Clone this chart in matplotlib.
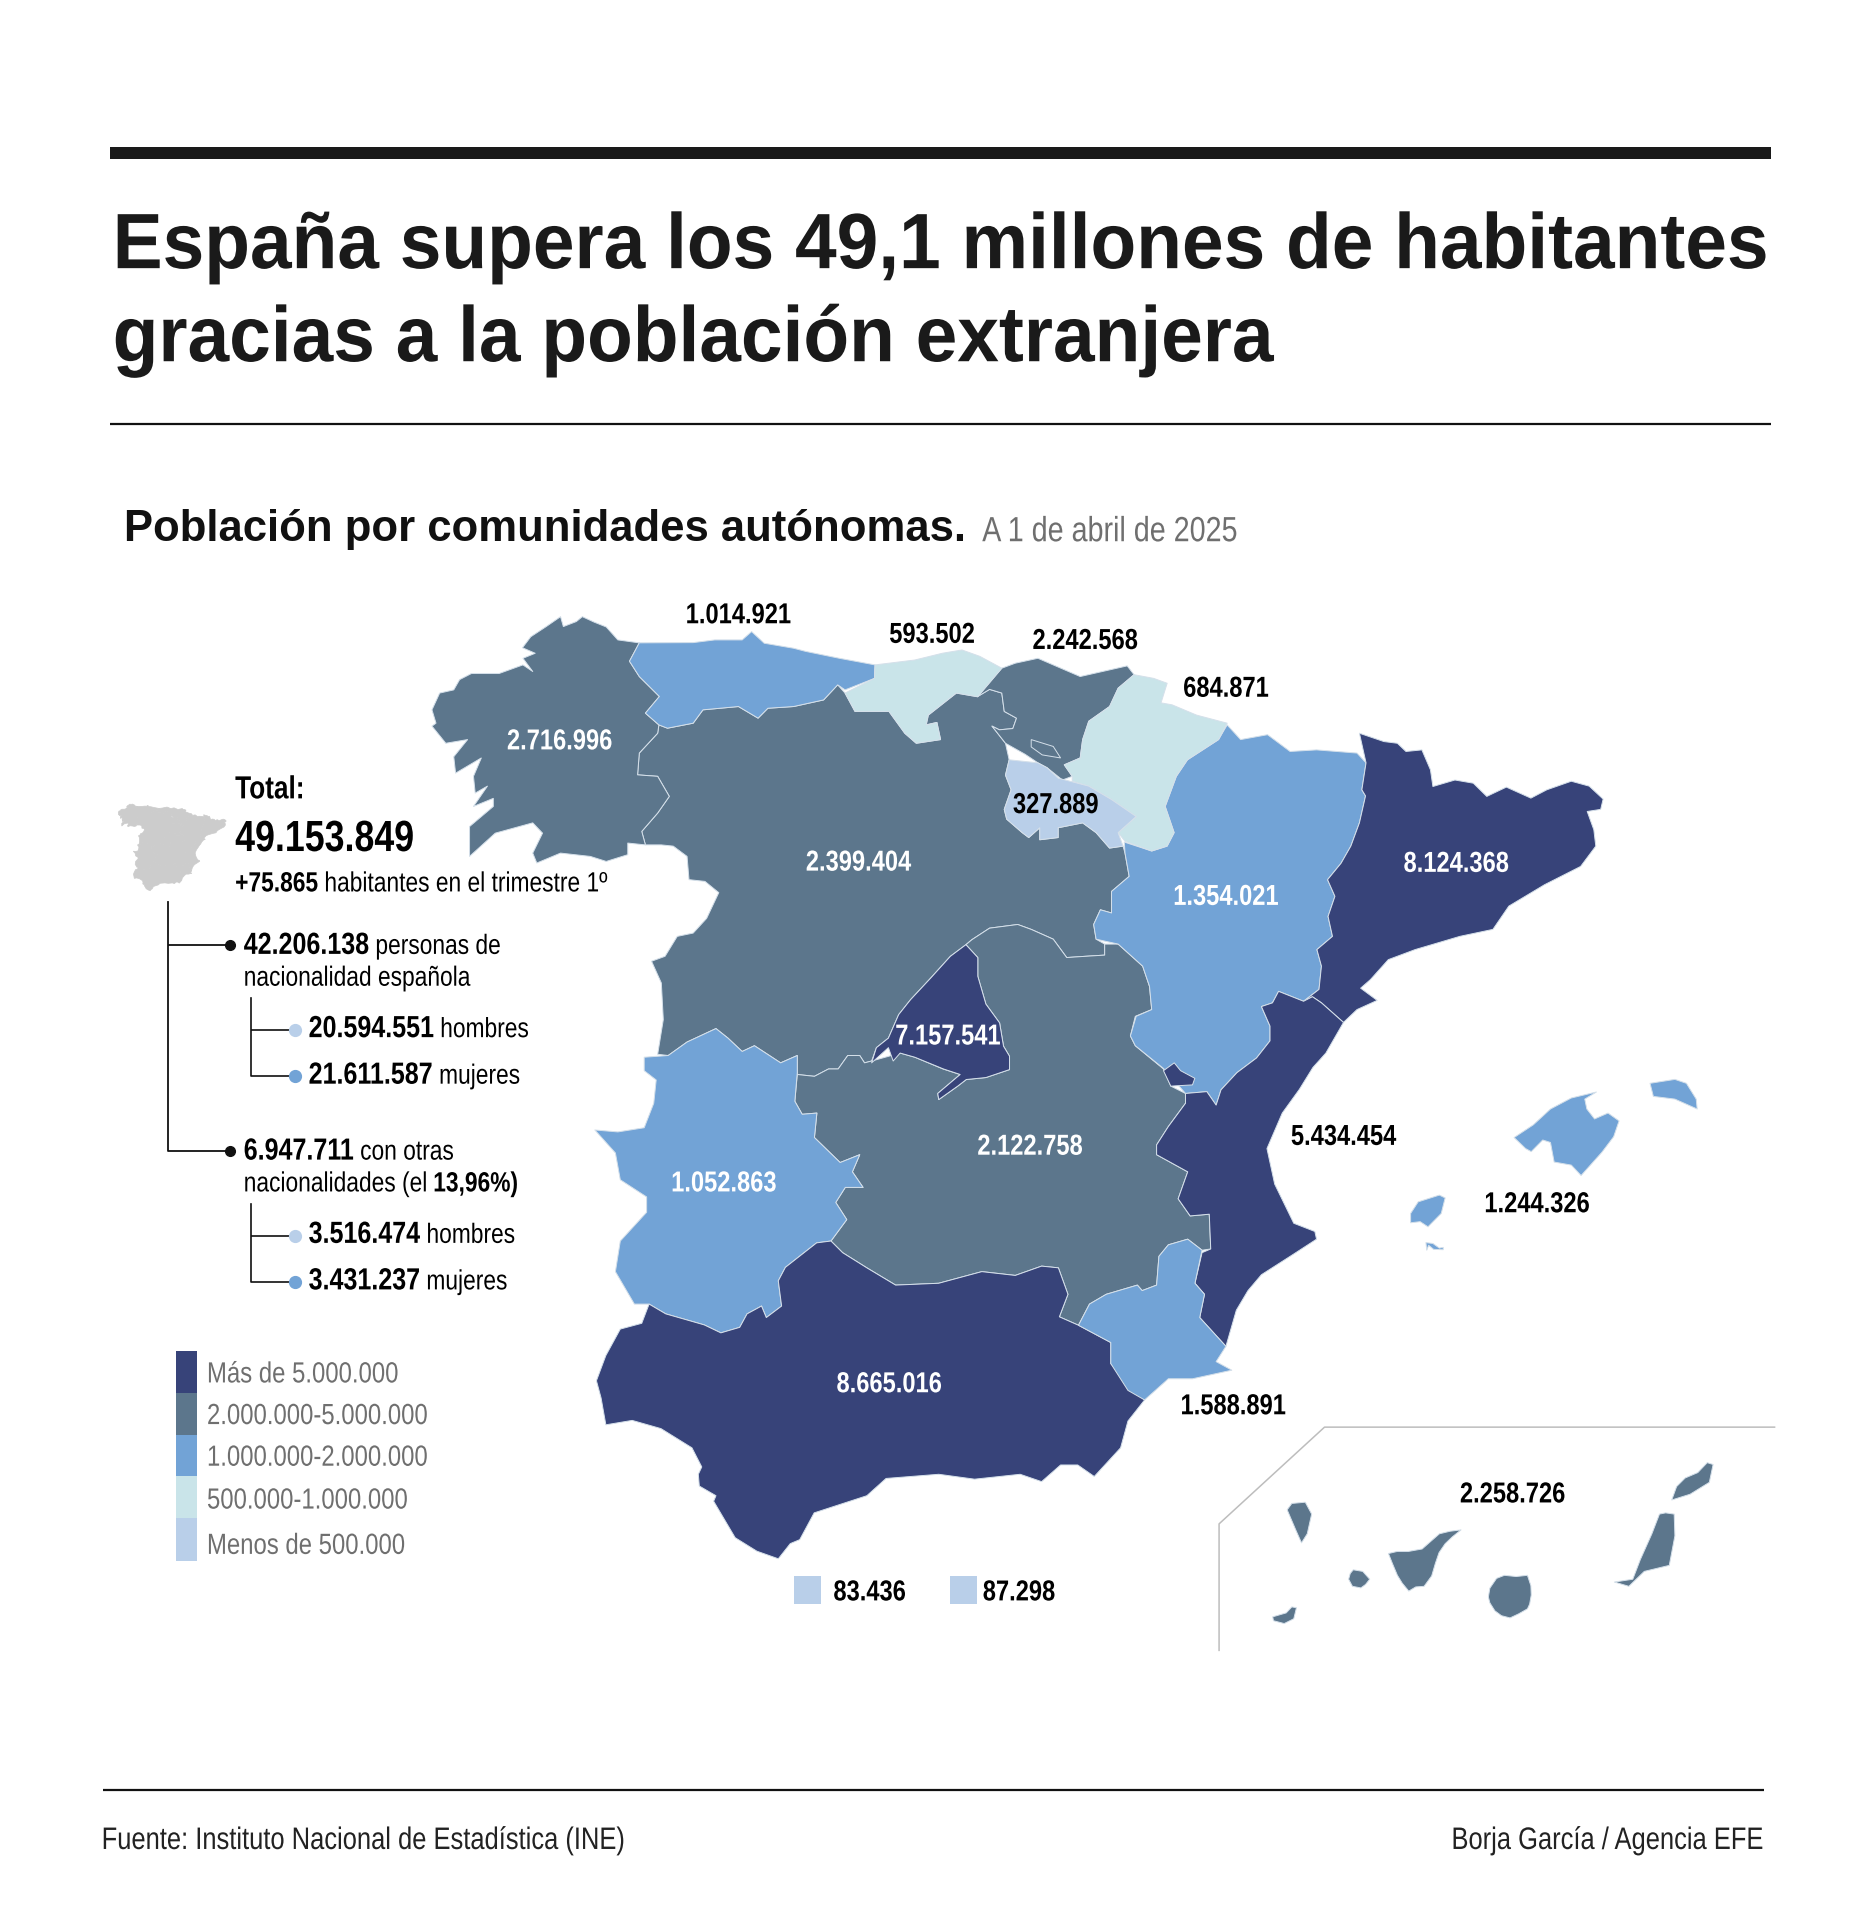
import matplotlib
matplotlib.use('Agg')
import matplotlib.pyplot as plt
from matplotlib.patches import Polygon, Rectangle
from matplotlib.patheffects import AbstractPathEffect
from matplotlib.transforms import Affine2D, Bbox

# picture units: reference width 1522 scaled up to 1864
W, H = 1522, 1568
FONT = 'Liberation Sans'
NARROW = 0.82  # reference uses a condensed face, no such font here

# population per region
regions = ['Galicia', 'Asturias', 'Cantabria', 'Euskadi', 'Navarra', 'Rioja', 'Aragon', 'Cataluna',
           'CyL', 'CLM', 'Madrid', 'Valencia', 'Extremadura', 'Andalucia', 'Murcia', 'Baleares', 'Canarias']
population = [2716996, 1014921, 593502, 2242568, 684871, 327889, 1354021, 8124368,
              2399404, 2122758, 7157541, 5434454, 1052863, 8665016, 1588891, 1244326, 2258726]
ceuta_melilla = [83436, 87298]

# legend
legend_labels = ['Más de 5.000.000', '2.000.000-5.000.000', '1.000.000-2.000.000', '500.000-1.000.000', 'Menos de 500.000']
bin_limits = [5000000, 2000000, 1000000, 500000, 0]
bin_colors = ['#374379', '#5c768c', '#72a3d6', '#c9e4e9', '#b9cfe9']

# left column figures
total = '49.153.849'
trimestre = '+75.865'
espanoles = ['42.206.138', '20.594.551', '21.611.587']
extranjeros = ['6.947.711', '3.516.474', '3.431.237']
porcentaje = '13,96%'

# region outlines
galicia = [(522,525),(504.5,522.6),(495,512),(485,508),(475.5,503.6),(470.6,507.6),(460,511.7),(457.7,503.6),(446,511.7),
           (433.4,520),(426.6,529),(437,533.5),(427,537.6),(435,548.4),(427,543),(407.6,550),(385,550),(375.3,555),(370.5,563.4),
           (359,566),(352.7,579.7),(356,590.6),(352.7,593),(364,607),(381.8,604),(370.5,618),(372,631.4),(393,619),(386.6,634),
           (388,647.7),(398,642),(386.6,658.6),(402.8,652),(402.8,658.6),(383.4,675),(383.4,699.4),(404.4,680.4),(435,672),
           (443,680.4),(435,696.7),(438.3,704.8),(457.7,696.7),(482,699.4),(495,703.5),(512.6,698),(512.6,688.5),(527,690),
           (524,679),(537,664),(546.5,650.4),(537,634),(520.6,632.8),(522,615),(537,598.8),(538,592),(527,582.4),(538.4,568.8),
           (522,552.5),(514,540)]
asturias = [(522,525),(566,524.8),(583.6,522.6),(606,522.6),(613.7,515.8),(624,525.3),(648,529.4),(658,532),(685.4,537.6),
            (714.5,543),(714,554),(690,563.4),(684,559.3),(672.5,571.6),(648,577),(627,578.4),(619,586.5),(603,577),(574,579.7),
            (566,590.6),(545,594.7),(538,592),(527,582.4),(538.4,568.8),(522,552.5),(514,540)]
cantabria = [(714.5,543),(747,539),(769.4,533.5),(785.5,530.8),(800,536),(818,545.7),(798.4,569),(780.7,566),(758,584),(756.4,592),
             (765,590),(768,604),(748.4,607),(738.7,598.8),(725.8,581),(698.3,581),(690,566),(714,554)]
euskadi = [(818,545.7),(829,541.6),(847.5,537.6),(882,552.5),(920.4,543.8),(926,551),(913,562),(906,577),(889,589),(884,604),
           (882,619),(869,624.6),(875.5,634),(867.5,637),(855,627),(847.5,623),(837,616),(821,607),(810,593),(816,596),(827,595),
           (830,586.5),(820,581),(818,566),(808,563),(798,569)]
trevino = [(842,604),(860,609.6),(866,619),(851,616.5),(842,610)]
navarra = [(926,551),(942,554),(953,558),(948,574),(957,575.6),(977,584),(1002,590.6),(995,604),(969.6,620.5),(960.5,634),
           (951.4,658.6),(958.7,680),(953,691),(940.4,695),(918.6,687),(913,680),(927.7,667),(907.6,653),(889,642),(875.5,638),
           (875.5,634),(869,624.6),(882,619),(884,604),(889,589),(906,577),(913,562)]
rioja = [(824,620.5),(838,622),(847.5,623),(855,627),(864,635.5),(889,642),(907.6,653),(927.7,666.8),(913,680),(917,691),(906,692.6),
         (895,680),(884,672),(864,676),(864,684),(849,685.8),(849,676),(840,684),(834.7,680),(822,669),(820,661),(825.6,645),(821,633)]
aragon = [(1002,592),(1013,604),(1035,600),(1053.4,613.7),(1075,612.4),(1108,615),(1115.4,623),(1112,645),(1115,650),(1110,672),
          (1103,691),(1095,705),(1084,718.4),(1090,732),(1084.4,748.4),(1088,764.7),(1075.3,775.5),(1079,789),(1077,808),(1064.4,817.7),
          (1044,809.6),(1039,819),(1030,822),(1037,838),(1037,850),(1026,864),(1010,876),(997,890),(993,902.5),(985.4,891.5),(968,893),
          (950.3,872.8),(927,854),(923,846),(927.7,830),(940.4,824.5),(938.6,805.5),(933,789),(913,771),(895,767),(893,755),(898.5,743),
          (907.6,745.6),(907.6,728),(922,715.7),(918.6,696.7),(918,687.7),(940.4,695),(953,691),(958.7,680),(951.4,658.6),(960.5,634),
          (969.6,620.5),(995,604)]
cataluna = [(1110,598.8),(1130,605.6),(1141,607),(1148,613.7),(1161,612.4),(1168,628.7),(1170,642.3),(1188,637),(1203,639.6),(1214,650.4),
            (1230,642.8),(1250,651.8),(1263,645),(1283,638),(1297.6,642),(1309,652.6),(1307,661),(1296,662.7),(1301.4,677.6),(1303,691),
            (1290.6,707.6),(1261.2,722.5),(1232,740),(1219,759),(1192,764.7),(1155.5,775.5),(1133.6,783.7),(1119,800),(1111,807),(1124.5,817),
            (1108,824.5),(1097,835),(1079,819),(1071.6,814),(1064.4,817.7),(1077,808),(1079,789),(1075.3,775.5),(1088,764.7),(1084.4,748.4),
            (1090,732),(1084,718.4),(1095,705),(1103,691),(1110,672),(1115,650),(1112,645),(1115.4,623)]
castilla_leon = [(538,592),(545,594.7),(566,590.6),(574,579.7),(603,577),(619,586.5),(627,578.4),(648,577),(672.5,571.6),(684,559.3),(690,566),
                 (698,581),(726,581),(739,599),(748,607),(768,604),(765,590),(756,592),(758,584),(781,566),(798,569),(808,563),(818,566),
                 (820,581),(830,586.5),(827,595),(816,596),(810,593),(821,607),(824,620.5),(821,633),(825.6,645),(820,661),(822,669),(834.7,680),
                 (840,684),(849,676),(849,685.8),(864,684),(864,676),(884,672),(895,680),(906,692.6),(917,691),(918.6,696.7),(922,715.7),
                 (907.6,728),(907.6,745.6),(898.5,743),(893,755),(895,767),(902,771),(902,780),(886,781),(871,782),(860,767),(842,759),(831,755),
                 (808,758),(793.6,767.4),(788.7,771.5),(776,781),(760,798.7),(743.5,816.4),(733.8,828.6),(725.4,847.8),(715.6,855.6),(711.7,866.5),
                 (705.9,868),(702,862),(692.2,862),(684.4,873),(676.5,873),(665,879),(651,877.5),(651,862),(637.4,868),(616,854),(606,858.7),
                 (594.4,847.8),(584.6,840),(561,851),(545.6,862),(537,861),(541.6,832.7),(540,802.8),(532,785),(543,781),(553,764.7),(566,762),
                 (577,750),(586.9,729),(575.6,719.8),(562.6,718.4),(561,699.4),(549.7,691),(540,690),(527,690),(524,679),(537,664),(546.5,650.4),
                 (537,634),(520.6,632.8),(522,615),(537,598.8)]
castilla_mancha = [(651,877.5),(665,879),(676.5,873),(684.4,873),(692.2,862),(702,862),(705.9,868),(711.7,866.5),(735,860),(747,863.4),(770,873),
                   (784,877.5),(765.7,893),(766.5,898),(782,887),(789,881.6),(805,880),(824.3,873.5),(824.3,862.6),(819.4,854.4),(816.2,835.4),
                   (805,820),(798.4,797.3),(798.4,782),(788.7,771.5),(793.6,767.4),(808,758),(831,755),(842,759),(860,767),(871,782),(886,781),
                   (902,780),(902,771),(913,771),(933,789),(938.6,805.5),(940.4,824.5),(927,830),(923,846),(927,854),(950,873),(956,887),(968,893),
                   (968,901),(954,920),(944.4,935),(944.4,943),(969.8,957),(962,979),(971.8,993),(987.4,991.6),(988.6,1020),(981.5,1021),(969.8,1012),
                   (954,1016.6),(946.3,1026),(944.4,1049.5),(932.6,1054),(928.7,1049.5),(903.3,1057),(889.6,1065),(880.6,1082.3),(865,1075.4),(872,1057),
                   (864.2,1035.4),(850.5,1034),(829,1041.6),(801.7,1038.5),(766.5,1048),(731.3,1049.5),(707.8,1035.4),(688,1023),(678.5,1013.5),
                   (691.4,996),(682.4,982),(690.2,969.7),(704.7,969.7),(696,957),(702,943),(686,949.4),(665,929),(667,909),(655,910),(649,899.4)]
madrid = [(788.7,771.5),(798.4,782),(798.4,797.3),(805,820),(816.2,835.4),(819.4,854.4),(824.3,862.6),(824.3,873.5),(805,880),(789,881.6),
          (782,887),(766.5,898),(765.7,893),(784,877.5),(770.4,873),(747,863.4),(735,860),(729.3,866.5),(725.4,855.6),(711.7,868),(715.6,855.6),
          (725.4,847.8),(733.8,828.6),(743.5,816.4),(760,798.7),(776,781)]
valencia = [(1044,809.6),(1064.4,817.7),(1071.6,814),(1079,819),(1097,835),(1082.6,860),(1072,871.8),(1061,889.6),(1047,909),(1034.5,938),(1040.8,967),
            (1056.4,999),(1073.6,1005.7),(1075,1012),(1055,1025),(1030,1041),(1019,1054),(1009.5,1070),(1001,1099.5),(979.6,1076),(983.5,1057),(975.7,1048),
            (981.5,1023),(988.6,1020),(987.4,991.6),(971.8,993),(962,979),(969.8,957),(944.4,943),(944.4,935),(954,920),(968,901),(968,893),(985.4,891.5),
            (993,902.5),(997,890),(1010,876),(1026,864),(1037,850),(1037,838),(1030,822),(1039,819)]
ademuz = [(950,874.4),(958.8,868),(964,874.4),(975.6,880.6),(973.7,886),(956,887)]
extremadura = [(584.6,840),(594.4,847.8),(606,858.7),(616,854),(637.4,868),(651,862),(651,876),(649,899.4),(655,910),(667,909),(665,929),(686,949.4),(702,943),
               (696,957),(704.7,969.7),(690.2,969.7),(682.4,982),(691.4,996),(678.5,1013.5),(666.8,1015),(641.3,1035),(635.5,1046),(638.2,1066.6),(625.7,1076),
               (621.8,1066.6),(610,1073),(604,1084),(588.6,1088.5),(575,1082),(543.6,1073),(530,1065),(518,1065),(502.5,1038.5),(506.5,1013.5),(528,990),(528,977.5),
               (506.5,963.5),(502.5,941.6),(485.7,922.8),(504.5,924.4),(526,921),(533.8,901),(535.8,882),(526,874.4),(526,863.4),(545.6,862),(561,851)]
andalucia = [(530,1065),(543.6,1073),(575,1082),(588.6,1088.5),(604,1084),(610,1073),(621.8,1066.6),(625.7,1076),(638.2,1066.6),(635.5,1046),(641.3,1035),(666.8,1015),
             (678.5,1013.5),(688,1023),(707.8,1035.4),(731.3,1049.5),(766.5,1048),(801.7,1038.5),(829,1041.6),(850.5,1034),(864.2,1035.4),(872,1057),(865,1075.4),
             (880.6,1082.3),(907,1096.4),(907,1113.6),(934.6,1143.3),(921,1160.5),(915,1182.4),(893.5,1205.8),(880,1196.4),(866,1196.4),(850.5,1210),(833,1204),(795.8,1208),
             (766.5,1204),(723.5,1207.4),(707.8,1221.5),(664.8,1235.5),(653,1257.4),(645.3,1260.6),(635.5,1273),(618,1266.8),(600.3,1255.8),(582.7,1226),(584.6,1221.5),
             (571,1213.6),(570.2,1204),(573,1198),(565,1182.4),(539.7,1166.7),(516.2,1160),(494.7,1163.6),(490.8,1141.7),(487,1127.6),(494.7,1107),(506.5,1085.4),(524,1080.7)]
murcia = [(880.6,1082.3),(889.6,1065),(903.3,1057),(928.7,1049.5),(932.6,1054),(944.4,1049.5),(946.3,1026),(954,1016.6),(969.8,1012),(981.5,1021),(975.7,1048),(983.5,1057),
          (979.6,1076),(1001,1099.5),(993,1112),(1005.8,1119),(973.7,1126),(954,1126),(934.6,1143.3),(921,1135.5),(907,1113.6),(907,1096.4)]
# islands
mallorca = [(1236.3,929),(1252,918.6),(1266,905.7),(1283,896.7),(1303.5,891.8),(1294,897.6),(1295.7,905.7),(1302,913.8),(1313,909),(1322,915.4),(1317.6,928.3),(1308,941),
            (1291,960),(1283,951.5),(1269,949),(1266,933),(1259.7,931),(1250.3,940.5),(1245.7,938)]
menorca = [(1347.3,884.7),(1367.6,881.5),(1377,884.7),(1385,897.6),(1385.8,905.7),(1367.6,897.6),(1350,895.4)]
ibiza = [(1151.8,991),(1158,981.5),(1175.3,976),(1180,978.3),(1176.8,991),(1166,1001.9),(1159.6,997.7),(1151.8,998.6)]
formentera = [(1164.3,1014.8),(1170,1015.5),(1175.3,1019.3),(1178.4,1018.7),(1178.4,1020.6),(1170.6,1020.3),(1166.5,1017),(1165,1021)]
la_palma = [(1051,1233),(1054.8,1227.8),(1065.8,1226.8),(1071,1236.5),(1067.4,1252.6),(1062.7,1260),(1058,1249.4)]
la_gomera = [(1101.2,1289.7),(1102.5,1285),(1105,1282),(1112.7,1283.3),(1118.4,1289.7),(1115,1294),(1111.2,1296.8),(1104.3,1295.5)]
tenerife = [(1133.7,1268.7),(1140.9,1267),(1150,1267),(1161.2,1265),(1168,1259),(1175.3,1252.6),(1184,1250.5),(1193,1249.4),(1186,1255),(1180,1260.7),(1175,1268),
            (1172,1276.8),(1169,1287),(1162.8,1295.5),(1156,1296),(1150.3,1299.4),(1145,1293),(1141,1286.5),(1137,1277)]
gran_canaria = [(1222,1289),(1228.4,1286.5),(1238,1287.5),(1247.2,1286.5),(1250,1295),(1250.3,1302.6),(1249,1310),(1247.2,1313.9),(1240,1318),(1233,1321.3),
                (1226,1319.5),(1220.6,1315.5),(1216.5,1309),(1215.3,1304.2),(1216.5,1297)]
el_hierro = [(1039.2,1320.4),(1050.2,1317.2),(1054.8,1312.3),(1058.6,1313),(1056.4,1322),(1048.6,1325.9),(1039.8,1323.6)]
fuerteventura = [(1318.2,1292),(1333.2,1289.7),(1339.4,1273.6),(1348.8,1252.6),(1355,1236.5),(1360,1235.5),(1367,1236.5),(1367.6,1254.2),(1363,1278.4),(1342.6,1283.3),(1330,1295.5)]
lanzarote = [(1365,1225),(1369,1214),(1376,1207),(1386.3,1202.6),(1394,1194.5),(1398.8,1196),(1395.7,1210.6),(1380,1220.3)]

shapes = {'Galicia': [galicia], 'Asturias': [asturias], 'Cantabria': [cantabria], 'CyL': [castilla_leon], 'Euskadi': [euskadi],
          'Navarra': [navarra], 'Rioja': [rioja], 'Aragon': [aragon], 'Cataluna': [cataluna], 'CLM': [castilla_mancha], 'Madrid': [madrid],
          'Valencia': [valencia, ademuz], 'Extremadura': [extremadura], 'Andalucia': [andalucia], 'Murcia': [murcia],
          'Baleares': [mallorca, menorca, ibiza, formentera],
          'Canarias': [la_palma, la_gomera, tenerife, gran_canaria, el_hierro, fuerteventura, lanzarote]}
draw_order = ['CyL', 'CLM', 'Galicia', 'Euskadi', 'Asturias', 'Cantabria', 'Aragon', 'Navarra', 'Rioja', 'Cataluna', 'Valencia',
              'Extremadura', 'Andalucia', 'Murcia', 'Madrid', 'Baleares', 'Canarias']

# where each region number goes, and its colour
label_pos = {'Asturias': (603, 501, 'black'), 'Cantabria': (761, 517, 'black'), 'Euskadi': (886, 522, 'black'), 'Navarra': (1001, 561, 'black'),
             'Galicia': (457, 604, 'white'), 'Rioja': (862, 656, 'black'), 'CyL': (701, 703, 'white'), 'Aragon': (1001, 731, 'white'),
             'Cataluna': (1189, 704, 'white'), 'Madrid': (774, 845, 'white'), 'Valencia': (1097, 927, 'black'), 'CLM': (841, 935, 'white'),
             'Extremadura': (591, 965, 'white'), 'Baleares': (1255, 982, 'black'), 'Andalucia': (726, 1129, 'white'),
             'Murcia': (1007, 1147, 'black'), 'Canarias': (1235, 1219, 'black')}


class Squeeze(AbstractPathEffect):
    # narrows the glyphs towards the text's left edge
    def __init__(self, factor):
        super().__init__()
        self.factor = factor

    def draw_path(self, renderer, gc, tpath, affine, rgbFace=None):
        renderer.draw_path(gc, tpath, Affine2D().scale(self.factor, 1) + affine, rgbFace)


def bin_color(value):
    for limit, color in zip(bin_limits, bin_colors):
        if value >= limit:
            return color
    return bin_colors[-1]


def dotted(value):
    return f'{value:,}'.replace(',', '.')


fig = plt.figure(figsize=(18.64, 19.2), dpi=100, facecolor='white')
ax = fig.add_axes([0, 0, 1, 1])
ax.set_xlim(0, W)
ax.set_ylim(H, 0)
ax.axis('off')
renderer = fig.canvas.get_renderer()


def txt(x, y, s, size, bold=False, color='black', ha='left', squeeze=NARROW):
    # returns the width actually drawn, in picture units
    t = ax.text(x, y, s, fontsize=size, color=color, family=FONT, va='baseline', ha='left',
                fontweight='bold' if bold else 'normal')
    width = t.get_window_extent(renderer).width * W / 1864 * squeeze
    if ha == 'center':
        t.set_x(x - width / 2)
    elif ha == 'right':
        t.set_x(x - width)
    if squeeze != 1:
        t.set_path_effects([Squeeze(squeeze)])
        # report the squeezed box, not the one of the full width text
        full_extent = t.get_window_extent

        def narrow_extent(r=None, dpi=None, full=full_extent, f=squeeze):
            b = full(r, dpi)
            return Bbox.from_extents(b.x0, b.y0, b.x0 + b.width * f, b.y1)
        t.get_window_extent = narrow_extent
    return width


def run(x, y, parts, size, bold_size=None):
    # consecutive pieces of text on one baseline, (text, bold) pairs
    for s, bold in parts:
        x += txt(x, y, s, (bold_size or size) if bold else size, bold) + size * 0.25


def hline(x0, x1, y, lw=1.5, color='#111111'):
    ax.plot([x0, x1], [y, y], color=color, lw=lw, solid_capstyle='butt')


# header
ax.add_patch(Rectangle((90, 120), 1356, 10, color='#1a1a1a', lw=0))
txt(92, 219, 'España supera los 49,1 millones de habitantes', 56.5, True, '#1a1a1a', squeeze=0.954)
txt(92, 295, 'gracias a la población extranjera', 56.5, True, '#1a1a1a', squeeze=0.954)
hline(90, 1446, 346, lw=1.6)
txt(101, 442, 'Población por comunidades autónomas.', 31.4, True, '#111111', squeeze=1)
txt(802, 442, 'A 1 de abril de 2025', 25.2, color='#6f6f6f')

# map
for name in draw_order:
    color = bin_color(population[regions.index(name)])
    for outline in shapes[name]:
        ax.add_patch(Polygon(outline, closed=True, facecolor=color, edgecolor='#d5e0ea', lw=0.7, joinstyle='round'))
ax.add_patch(Polygon(trevino, closed=True, facecolor=bin_color(population[regions.index('CyL')]), edgecolor='#d5e0ea', lw=0.7))

for name, (x, y, color) in label_pos.items():
    txt(x, y + 8, dotted(population[regions.index(name)]), 20.8, True, color, ha='center')

# Ceuta y Melilla
for x0, xt, value in zip([648, 776], [710, 832], ceuta_melilla):
    ax.add_patch(Rectangle((x0, 1287), 22, 23, facecolor=bin_color(value), lw=0))
    txt(xt, 1307, dotted(value), 20.8, True, ha='center')

# frame around the Canaries
ax.plot([1449, 1081.5, 995.4, 995.4], [1165.5, 1165.5, 1244.5, 1347.8], color='#bdbdbd', lw=1.1)

# small grey Spain, same outlines shrunk
for name in draw_order[:-2]:
    for outline in shapes[name]:
        small = [(96.6 + (px - 352.7) * 0.092, 656.6 + (py - 503.6) * 0.092) for px, py in outline]
        ax.add_patch(Polygon(small, closed=True, facecolor='#cccccc', edgecolor='#cccccc', lw=0.5))

# total block
txt(192, 652, 'Total:', 23, True)
txt(192, 695, total, 31.4, True)
run(192, 728, [(trimestre, True), ('habitantes en el trimestre 1º', False)], 20)

# tree
ax.plot([137, 137, 188], [737, 940, 940], color='#111111', lw=1.3)
hline(137, 188, 772, lw=1.3)
ax.plot([188, 188], [772, 940], ls='', marker='o', ms=7, color='#111111')
for top, y1, y2 in [(815, 841, 879), (983, 1009, 1047)]:
    hline(205, 236, y1, lw=1.2)
    ax.plot([205, 205, 236], [top, y2, y2], color='#111111', lw=1.2)
    ax.plot([241], [y1], marker='o', ms=8.5, color=bin_colors[4], ls='')
    ax.plot([241], [y2], marker='o', ms=8.5, color=bin_colors[2], ls='')

run(199, 779, [(espanoles[0], True), ('personas de', False)], 20, 22)
run(199, 805, [('nacionalidad española', False)], 20)
run(252, 847, [(espanoles[1], True), ('hombres', False)], 20, 22)
run(252, 885, [(espanoles[2], True), ('mujeres', False)], 20, 22)
run(199, 947, [(extranjeros[0], True), ('con otras', False)], 20, 22)
run(199, 973, [('nacionalidades (el', False), (porcentaje + ')', True)], 20)
run(252, 1015, [(extranjeros[1], True), ('hombres', False)], 20, 22)
run(252, 1053, [(extranjeros[2], True), ('mujeres', False)], 20, 22)

# legend
legend_edges = [1103, 1137.5, 1171.7, 1205.6, 1240, 1274.6]
legend_base = [1129, 1163, 1197, 1232, 1269]
for i, label in enumerate(legend_labels):
    ax.add_patch(Rectangle((144, legend_edges[i]), 16.5, legend_edges[i + 1] - legend_edges[i], facecolor=bin_colors[i], lw=0))
    txt(169, legend_base[i], label, 21, color='#6f6f6f')

# footer
hline(84, 1440, 1462, lw=1.6)
txt(83, 1510, 'Fuente: Instituto Nacional de Estadística (INE)', 22.4, color='#222222')
txt(1440, 1510, 'Borja García / Agencia EFE', 22.4, color='#222222', ha='right')

fig.savefig('out.png', dpi=100, facecolor='white')
